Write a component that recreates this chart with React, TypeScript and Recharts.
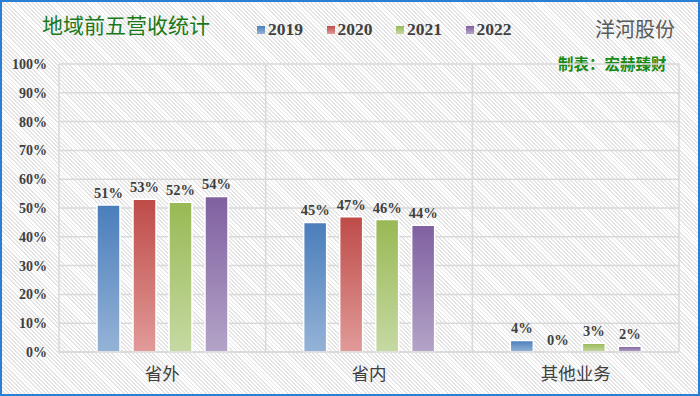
import React from 'react';
import { BarChart, Bar, XAxis, YAxis, CartesianGrid, LabelList, Legend } from 'recharts';

const categories = ['省外', '省内', '其他业务'];
const s2019 = [51, 45, 4];
const s2020 = [53, 47, 0];
const s2021 = [52, 46, 3];
const s2022 = [54, 44, 2];
const yTicks = [0, 10, 20, 30, 40, 50, 60, 70, 80, 90, 100];

const seriesInfo = [
  { key: 'y2019', name: '2019', top: '#4a7ebb', bottom: '#95b3d7' },
  { key: 'y2020', name: '2020', top: '#be4b48', bottom: '#e19b99' },
  { key: 'y2021', name: '2021', top: '#98b954', bottom: '#c6d9a3' },
  { key: 'y2022', name: '2022', top: '#7f60a0', bottom: '#b4a4c8' },
];

const data = categories.map((c, i) => ({
  name: c,
  y2019: s2019[i],
  y2020: s2020[i],
  y2021: s2021[i],
  y2022: s2022[i],
}));

const serif = '"Liberation Serif", "Times New Roman", serif';
const cjk = '"Noto Sans CJK SC", sans-serif';

const LegendContent = (props: any) => {
  const payload = props.payload || [];
  return (
    <div style={{ display: 'flex', alignItems: 'center' }}>
      {payload.map((p: any, i: number) => {
        const s = seriesInfo.find((x) => x.name === p.value) || seriesInfo[i];
        return (
          <div key={i} style={{ display: 'flex', alignItems: 'center', width: 69.5 }}>
            <div
              style={{
                width: 8,
                height: 8,
                background: `linear-gradient(${s.top}, ${s.bottom})`,
                marginRight: 3,
              }}
            />
            <span style={{ fontFamily: serif, fontWeight: 'bold', fontSize: 17.5, color: '#404040' }}>
              {p.value}
            </span>
          </div>
        );
      })}
    </div>
  );
};

export default function App() {
  return (
    <div
      style={{
        position: 'absolute',
        left: 0,
        top: 0,
        width: 700,
        height: 396,
        boxSizing: 'border-box',
        border: '2px solid #2a7fd4',
        background:
          'repeating-linear-gradient(45deg, #ffffff 0px, #ffffff 1.6px, #e4e4e4 1.6px, #e4e4e4 2.9px)',
        overflow: 'hidden',
      }}
    >
      <div
        style={{
          position: 'absolute',
          left: 40,
          top: 10,
          fontFamily: cjk,
          fontSize: 21,
          color: '#1a7a1a',
          lineHeight: 1.2,
        }}
      >
        地域前五营收统计
      </div>
      <div
        style={{
          position: 'absolute',
          left: 593,
          top: 15,
          fontFamily: cjk,
          fontSize: 20,
          color: '#595959',
          lineHeight: 1.2,
        }}
      >
        洋河股份
      </div>
      <div
        style={{
          position: 'absolute',
          left: 556,
          top: 52,
          fontFamily: cjk,
          fontWeight: 'bold',
          fontSize: 15.5,
          color: '#1a8a1a',
          lineHeight: 1.2,
        }}
      >
        制表：宏赫臻财
      </div>
      <div style={{ position: 'absolute', left: -2, top: -2 }}>
        <BarChart
          width={700}
          height={396}
          data={data}
          margin={{ top: 64, right: 21, bottom: 14, left: 8 }}
          barSize={23}
          barGap={13}
        >
          <defs>
            {seriesInfo.map((s) => (
              <linearGradient key={s.key} id={`g-${s.key}`} x1="0" y1="0" x2="0" y2="1">
                <stop offset="0%" stopColor={s.top} />
                <stop offset="100%" stopColor={s.bottom} />
              </linearGradient>
            ))}
          </defs>
          <CartesianGrid
            stroke="#d9d9d9"
            strokeWidth={1.5}
            verticalCoordinatesGenerator={(p: any) => {
              const off = p.offset;
              return [0, 1, 2, 3].map((i) => off.left + (i * off.width) / 3);
            }}
          />
          <XAxis
            dataKey="name"
            height={30}
            tickLine={false}
            axisLine={{ stroke: '#d9d9d9', strokeWidth: 1.5 }}
            tick={{ fill: '#404040', fontSize: 17.5, fontFamily: cjk }}
            tickMargin={10}
            interval={0}
          />
          <YAxis
            width={51}
            domain={[0, 100]}
            ticks={yTicks}
            tickFormatter={(v: number) => `${v}%`}
            tickLine={false}
            axisLine={false}
            tick={{ fill: '#404040', fontSize: 14, fontFamily: serif, fontWeight: 'bold' }}
            tickMargin={6}
          />
          <Legend
            layout="horizontal"
            verticalAlign="middle"
            align="center"
            wrapperStyle={{ top: 19, left: 257, width: 300 }}
            content={<LegendContent />}
          />
          {seriesInfo.map((s) => (
            <Bar
              key={s.key}
              dataKey={s.key}
              name={s.name}
              fill={`url(#g-${s.key})`}
              stroke="#ffffff"
              strokeWidth={1.5}
              minPointSize={(v: number) => (v === 0 ? 0.01 : 0)}
              isAnimationActive={false}
            >
              <LabelList
                dataKey={s.key}
                position="top"
                offset={7}
                formatter={(v: any) => `${v}%`}
                fill="#404040"
                style={{ fontFamily: serif, fontWeight: 'bold', fontSize: 14.5 }}
              />
            </Bar>
          ))}
        </BarChart>
      </div>
    </div>
  );
}
